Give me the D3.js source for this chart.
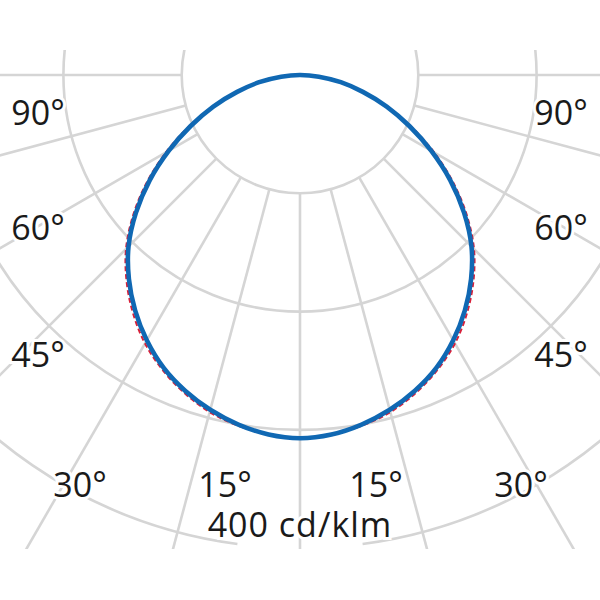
<!DOCTYPE html>
<html>
<head>
<meta charset="utf-8">
<script src="https://cdn.jsdelivr.net/npm/d3@7"></script>
<style>
  html, body { margin: 0; padding: 0; background: #fff; }
  svg { display: block; }
</style>
</head>
<body>
<div id="chart"></div>
<script>
// gamma angles from nadir (deg) and luminous intensity (cd/klm)
const gammaAngles = [0, 5, 10, 15, 20, 25, 30, 35, 40, 45, 50, 55, 60, 65, 70, 75, 80, 85, 90];
const planeC0C180 = [307, 305, 300, 293, 284, 273, 259, 243, 225, 205, 181, 155, 128, 102, 78, 55, 35, 16, 0];
const planeC90C270 = [307, 305, 301, 295, 286, 275, 262, 246, 228, 208, 184, 158, 131, 104, 79, 56, 35, 16, 0];

const ringValues = [100, 200, 300, 400];
const ringLabel = "400 cd/klm";
const spokeStep = 15;
const angleLabels = ["90°", "60°", "45°", "30°", "15°", "15°", "30°", "90°", "60°", "45°"];

const W = 600, H = 600;
const cx = 300, cy = 75;
const clipTop = 50, clipBottom = 549;

// label layout (text centre / baseline)
const labelLayout = [
  [38, 125], [38, 240], [38, 367], [80, 497], [225, 497],
  [376, 497], [521, 497], [561, 125], [561, 240], [561, 367]
];

const r = d3.scaleLinear().domain([0, 100]).range([0, 118.3]);
const rad = d => d * Math.PI / 180;

const svg = d3.select("#chart")
  .append("svg")
  .attr("width", W)
  .attr("height", H);

svg.append("defs").append("clipPath")
  .attr("id", "plot-clip")
  .append("rect")
  .attr("x", 0)
  .attr("y", clipTop)
  .attr("width", W)
  .attr("height", clipBottom - clipTop);

const plot = svg.append("g").attr("clip-path", "url(#plot-clip)");
const g = plot.append("g").attr("transform", `translate(${cx},${cy})`);

const gridColor = "#d5d5d5";
const gridWidth = 2.6;

// spokes start at the first ring
const spokes = d3.range(0, 360, spokeStep);
g.selectAll("line.spoke")
  .data(spokes)
  .join("line")
  .attr("class", "spoke")
  .attr("x1", d => r(ringValues[0]) * Math.sin(rad(d)))
  .attr("y1", d => r(ringValues[0]) * Math.cos(rad(d)))
  .attr("x2", d => 900 * Math.sin(rad(d)))
  .attr("y2", d => 900 * Math.cos(rad(d)))
  .attr("stroke", gridColor)
  .attr("stroke-width", gridWidth);

// rings, the outer one is broken under its label
const gap = rad(7.6);
g.selectAll("path.ring")
  .data(ringValues)
  .join("path")
  .attr("class", "ring")
  .attr("d", (d, i) => {
    const p = d3.path();
    const R = r(d);
    if (i === ringValues.length - 1) {
      p.arc(0, 0, R, Math.PI / 2 + gap, Math.PI / 2 - gap + 2 * Math.PI);
    } else {
      p.arc(0, 0, R, 0, 2 * Math.PI);
    }
    return p.toString();
  })
  .attr("fill", "none")
  .attr("stroke", gridColor)
  .attr("stroke-width", gridWidth);

// C180 on the left, C0 on the right; the curve closes at the centre
function planePoints(vals) {
  const pts = [];
  for (let i = gammaAngles.length - 1; i >= 0; i--) {
    pts.push([Math.PI + rad(gammaAngles[i]), r(vals[i])]);
  }
  for (let i = 1; i < gammaAngles.length - 1; i++) {
    pts.push([Math.PI - rad(gammaAngles[i]), r(vals[i])]);
  }
  return pts;
}

const curve = d3.lineRadial()
  .angle(d => d[0])
  .radius(d => d[1])
  .curve(d3.curveCatmullRomClosed.alpha(0.5));

g.append("path")
  .datum(planePoints(planeC90C270))
  .attr("d", curve)
  .attr("fill", "none")
  .attr("stroke", "#d8203a")
  .attr("stroke-width", 2)
  .attr("stroke-dasharray", "5,3");

g.append("path")
  .datum(planePoints(planeC0C180))
  .attr("d", curve)
  .attr("fill", "none")
  .attr("stroke", "#1068b3")
  .attr("stroke-width", 4.6)
  .attr("stroke-linejoin", "round");

// labels with a white halo over the grid
const font = "'Open Sans', 'Noto Sans', sans-serif";
svg.selectAll("text.angle")
  .data(angleLabels)
  .join("text")
  .attr("class", "angle")
  .attr("x", (d, i) => labelLayout[i][0])
  .attr("y", (d, i) => labelLayout[i][1])
  .attr("text-anchor", "middle")
  .attr("font-family", font)
  .attr("font-size", 34)
  .attr("fill", "#1a1a1a")
  .attr("stroke", "#fff")
  .attr("stroke-width", 6)
  .attr("paint-order", "stroke")
  .text(d => d);

svg.append("text")
  .attr("x", cx)
  .attr("y", cy + r(ringValues[ringValues.length - 1]) - 11)
  .attr("text-anchor", "middle")
  .attr("font-family", font)
  .attr("font-size", 34)
  .attr("letter-spacing", 1)
  .attr("fill", "#1a1a1a")
  .attr("stroke", "#fff")
  .attr("stroke-width", 6)
  .attr("paint-order", "stroke")
  .text(ringLabel);
</script>
</body>
</html>
